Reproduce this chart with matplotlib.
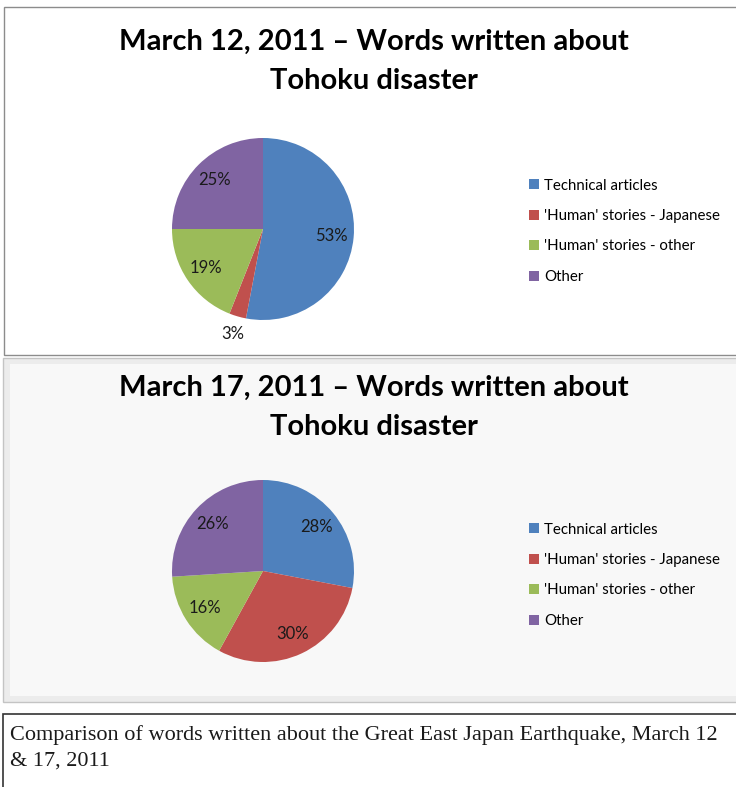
import matplotlib
matplotlib.use("Agg")
import matplotlib.pyplot as plt
from matplotlib.patches import Rectangle
import numpy as np

# ---- data ----
categories = ["Technical articles", "'Human' stories - Japanese",
              "'Human' stories - other", "Other"]
march12_values = [53, 3, 19, 25]
march17_values = [28, 30, 16, 26]
titles = ["March 12, 2011 \u2013 Words written about\nTohoku disaster",
          "March 17, 2011 \u2013 Words written about\nTohoku disaster"]
caption = ("Comparison of words written about the Great East Japan Earthquake, March 12\n"
           "& 17, 2011")
colors = ["#4F81BD", "#C0504D", "#9BBB59", "#8064A2"]

W, H = 736, 787
DPI = 100
fig = plt.figure(figsize=(W / DPI, H / DPI), dpi=DPI)
fig.patch.set_facecolor("white")

def fx(x):
    return x / W

def fy(y):
    return 1 - y / H

def rect(x0, y0, x1, y1, **kw):
    fig.patches.append(Rectangle((fx(x0), fy(y1)), (x1 - x0) / W, (y1 - y0) / H,
                                 transform=fig.transFigure, zorder=-10, **kw))

# boxes
rect(4, 7, 740, 355, facecolor="white", edgecolor="#8c8c8c", lw=1.0)
rect(3, 358, 740, 702, facecolor="#ececec", edgecolor="#c4c4c4", lw=1.0)
rect(10, 364, 740, 696, facecolor="#f8f8f8", edgecolor="none")
rect(3, 714, 740, 800, facecolor="white", edgecolor="#333333", lw=1.2)

chart_font = ["Lato", "DejaVu Sans"]

def draw_chart(values, title, cy, title_y, legend_top, out_label_idx):
    r = 91
    cx = 263
    ax = fig.add_axes([fx(cx - r), fy(cy + r), 2 * r / W, 2 * r / H], zorder=2)
    ax.patch.set_alpha(0)
    wedges, _ = ax.pie(values, colors=colors, startangle=90, counterclock=False,
                       radius=1.0, wedgeprops=dict(edgecolor="none"))
    ax.set_xlim(-1, 1)
    ax.set_ylim(-1, 1)
    ax.set_aspect("auto")
    ax.axis("off")
    for i, (w, v) in enumerate(zip(wedges, values)):
        ang = np.deg2rad((w.theta1 + w.theta2) / 2)
        d = 1.2 if i == out_label_idx else 0.76
        ax.text(d * np.cos(ang), d * np.sin(ang), f"{v}%", ha="center", va="center",
                fontsize=12, family=chart_font, color="#1a1a1a", clip_on=False)
    fig.text(fx(374), fy(title_y), title, ha="center", va="center",
             fontsize=21, fontweight="bold", family=chart_font,
             linespacing=1.62)
    fig.legend(wedges, categories, loc="upper left",
               bbox_to_anchor=(fx(529), fy(legend_top)),
               frameon=False, prop=dict(family=chart_font, size=10.8),
               handlelength=0.65, handleheight=0.65, handletextpad=0.35,
               labelspacing=1.1, borderaxespad=0, borderpad=0)

draw_chart(march12_values, titles[0], 229, 61, 178.5, 1)
draw_chart(march17_values, titles[1], 571, 407, 522.5, -1)

fig.text(fx(10), fy(748), caption, ha="left", va="center",
         fontsize=16, family=["Liberation Serif", "DejaVu Serif"],
         linespacing=1.5, color="#1a1a1a")

fig.savefig("out.png", dpi=DPI, facecolor="white")
